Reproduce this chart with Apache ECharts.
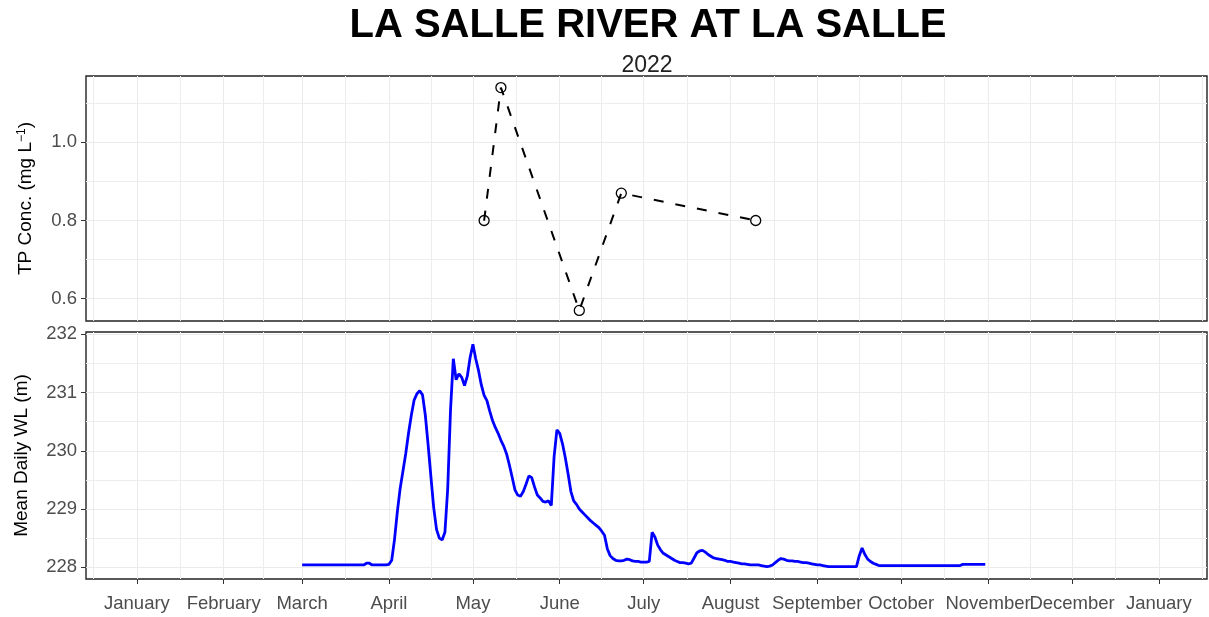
<!DOCTYPE html>
<html>
<head>
<meta charset="utf-8">
<title>La Salle River at La Salle</title>
<script src="https://cdn.jsdelivr.net/npm/echarts@6/dist/echarts.min.js"></script>
<style>
html, body { margin: 0; padding: 0; background: #fff; }
#chart { width: 1209px; height: 617px; }
</style>
</head>
<body>
<div id="chart"></div>
<script>
// TP grab samples
const tpDates = ['2022-05-05', '2022-05-11', '2022-06-08', '2022-06-23', '2022-08-10'];
const tpValues = [0.80, 1.14, 0.57, 0.87, 0.80];

// mean daily water level, one value per day from wlStart
const wlStart = '2022-03-01';
const wlValues = [
  // March
  228.04, 228.04, 228.04, 228.04, 228.04, 228.04, 228.04, 228.04, 228.04, 228.04,
  228.04, 228.04, 228.04, 228.04, 228.04, 228.04, 228.04, 228.04, 228.04, 228.04,
  228.04, 228.04, 228.04, 228.07, 228.07, 228.04, 228.04, 228.04, 228.04, 228.04,
  228.04,
  // April
  228.05, 228.12, 228.48, 228.95, 229.35, 229.65, 229.95, 230.30, 230.61, 230.87,
  230.98, 231.03, 230.96, 230.61, 230.10, 229.55, 229.02, 228.65, 228.50, 228.47,
  228.60, 229.35, 230.70, 231.58, 231.22, 231.32, 231.26, 231.12, 231.28, 231.60,
  // May
  231.83, 231.58, 231.38, 231.13, 230.95, 230.86, 230.68, 230.52, 230.40, 230.30,
  230.18, 230.08, 229.95, 229.76, 229.55, 229.33, 229.24, 229.22, 229.30, 229.43,
  229.57, 229.54, 229.38, 229.24, 229.19, 229.13, 229.12, 229.14, 229.06, 229.90,
  230.36,
  // June
  230.30, 230.12, 229.88, 229.60, 229.30, 229.14, 229.08, 229.00, 228.95, 228.90,
  228.85, 228.80, 228.76, 228.72, 228.68, 228.62, 228.55, 228.32, 228.20, 228.15,
  228.12, 228.11, 228.11, 228.12, 228.14, 228.13, 228.11, 228.10, 228.10, 228.09,
  // July
  228.09, 228.09, 228.10, 228.60, 228.52, 228.38, 228.30, 228.24, 228.21, 228.18,
  228.15, 228.12, 228.10, 228.08, 228.08, 228.07, 228.06, 228.07, 228.16, 228.25,
  228.28, 228.29, 228.26, 228.22, 228.19, 228.16, 228.15, 228.14, 228.13, 228.12,
  228.10,
  // August
  228.10, 228.09, 228.08, 228.07, 228.06, 228.06, 228.05, 228.04, 228.04, 228.04,
  228.04, 228.03, 228.02, 228.01, 228.02, 228.04, 228.08, 228.12, 228.15, 228.14,
  228.12, 228.11, 228.11, 228.10, 228.10, 228.09, 228.08, 228.08, 228.07, 228.06,
  228.05,
  // September
  228.04, 228.04, 228.03, 228.02, 228.01, 228.01, 228.01, 228.01, 228.01, 228.01,
  228.01, 228.01, 228.01, 228.01, 228.01, 228.20, 228.33, 228.22, 228.14, 228.10,
  228.07, 228.05, 228.03, 228.03, 228.03, 228.03, 228.03, 228.03, 228.03, 228.03,
  // October
  228.03, 228.03, 228.03, 228.03, 228.03, 228.03, 228.03, 228.03, 228.03, 228.03,
  228.03, 228.03, 228.03, 228.03, 228.03, 228.03, 228.03, 228.03, 228.03, 228.03,
  228.03, 228.03, 228.05, 228.05, 228.05, 228.05, 228.05, 228.05, 228.05, 228.05,
  228.05
];

const monthTicks = ['2022-01-01', '2022-02-01', '2022-03-01', '2022-04-01', '2022-05-01',
  '2022-06-01', '2022-07-01', '2022-08-01', '2022-09-01', '2022-10-01', '2022-11-01',
  '2022-12-01', '2023-01-01'];
const monthLabels = ['January', 'February', 'March', 'April', 'May', 'June', 'July',
  'August', 'September', 'October', 'November', 'December', 'January'];
const tpTicks = [0.6, 0.8, 1.0];
const tpMinor = [0.7, 0.9, 1.1];
const wlTicks = [228, 229, 230, 231, 232];
const wlMinor = [228.5, 229.5, 230.5, 231.5];

const DAY = 864e5;
const ts = (s) => Date.parse(s);
const tickTs = monthTicks.map(ts);
// minor x grid sits halfway between month starts (one month beyond each end too)
const gridMonths = ['2021-12-01', ...monthTicks, '2023-02-01'].map(ts);
const minorX = gridMonths.slice(1).map((t, i) => (t + gridMonths[i]) / 2);
const xMin = ts('2022-01-01') - 18.2 * DAY;
const xMax = ts('2022-12-31') + 18.2 * DAY;

const FONT = 'Liberation Sans, Arial, sans-serif';
const GRID_MAJOR = '#ebebeb';
const GRID_MINOR = '#ededed';

function xAxisPair(gridIndex, withLabels) {
  return [
    {
      type: 'value', gridIndex, min: xMin, max: xMax,
      axisLine: { show: false },
      axisTick: { show: withLabels, customValues: tickTs, length: 5, lineStyle: { color: '#333' } },
      axisLabel: {
        show: withLabels, customValues: tickTs, margin: 15,
        color: '#4d4d4d', fontSize: 18.5, fontFamily: FONT,
        formatter: (v) => monthLabels[tickTs.indexOf(v)] || ''
      },
      splitLine: { show: true, lineStyle: { color: GRID_MAJOR, width: 1 } }
    },
    {
      type: 'value', gridIndex, min: xMin, max: xMax,
      axisLine: { show: false },
      axisTick: { show: false, customValues: minorX },
      axisLabel: { show: false, customValues: minorX },
      splitLine: { show: true, lineStyle: { color: GRID_MINOR, width: 1 } }
    }
  ];
}

function yAxisPair(gridIndex, min, max, ticks, minor, name, nameGap) {
  return [
    {
      type: 'value', gridIndex, min, max,
      name, nameLocation: 'middle', nameGap,
      nameTextStyle: {
        color: '#000', fontSize: 19, fontFamily: FONT,
        rich: { sup: { fontSize: 12, fontFamily: FONT, color: '#000', verticalAlign: 'top', padding: [0, 0, 4, 0] } }
      },
      axisLine: { show: false },
      axisTick: { show: true, customValues: ticks, length: 5, lineStyle: { color: '#333' } },
      axisLabel: {
        customValues: ticks, margin: 9,
        color: '#4d4d4d', fontSize: 18.5, fontFamily: FONT,
        formatter: (v) => (ticks === tpTicks ? v.toFixed(1) : String(v))
      },
      splitLine: { show: true, lineStyle: { color: GRID_MAJOR, width: 1 } }
    },
    {
      type: 'value', gridIndex, min, max,
      axisLine: { show: false },
      axisTick: { show: false, customValues: minor },
      axisLabel: { show: false, customValues: minor },
      splitLine: { show: true, lineStyle: { color: GRID_MINOR, width: 1 } }
    }
  ];
}

const chart = echarts.init(document.getElementById('chart'));
chart.setOption({
  animation: false,
  backgroundColor: '#fff',
  graphic: [
    {
      type: 'text', x: 648, y: 26,
      style: {
        text: 'LA SALLE RIVER AT LA SALLE', fill: '#000',
        font: 'bold 40px ' + FONT, textAlign: 'center', textVerticalAlign: 'middle'
      }
    },
    {
      type: 'text', x: 647, y: 66,
      style: {
        text: '2022', fill: '#222',
        font: '23px ' + FONT, textAlign: 'center', textVerticalAlign: 'middle'
      }
    }
  ],
  grid: [
    { left: 86, right: 2, top: 76, height: 245, show: true, borderColor: '#222', borderWidth: 1.4, outerBoundsMode: 'none' },
    { left: 86, right: 2, top: 332, height: 247, show: true, borderColor: '#222', borderWidth: 1.4, outerBoundsMode: 'none' }
  ],
  xAxis: [...xAxisPair(0, false), ...xAxisPair(1, true)],
  yAxis: [
    ...yAxisPair(0, 0.543, 1.1696, tpTicks, tpMinor, 'TP Conc. (mg L{sup|\u22121})', 51),
    ...yAxisPair(1, 227.799, 232.039, wlTicks, wlMinor, 'Mean Daily WL (m)', 55)
  ],
  series: [
    {
      name: 'TP', type: 'line', xAxisIndex: 0, yAxisIndex: 0,
      data: tpDates.map((d, i) => [ts(d), tpValues[i]]),
      symbol: 'circle', symbolSize: 10,
      itemStyle: { color: 'rgba(0,0,0,0)', borderColor: '#000', borderWidth: 1.3 },
      lineStyle: { color: '#000', width: 2, type: [10, 12] },
      emphasis: { disabled: true }
    },
    {
      name: 'WL', type: 'line', xAxisIndex: 2, yAxisIndex: 2,
      data: wlValues.map((v, i) => [ts(wlStart) + i * DAY, v]),
      showSymbol: false,
      lineStyle: { color: '#0000ff', width: 2.8 },
      emphasis: { disabled: true }
    }
  ]
});
</script>
</body>
</html>
